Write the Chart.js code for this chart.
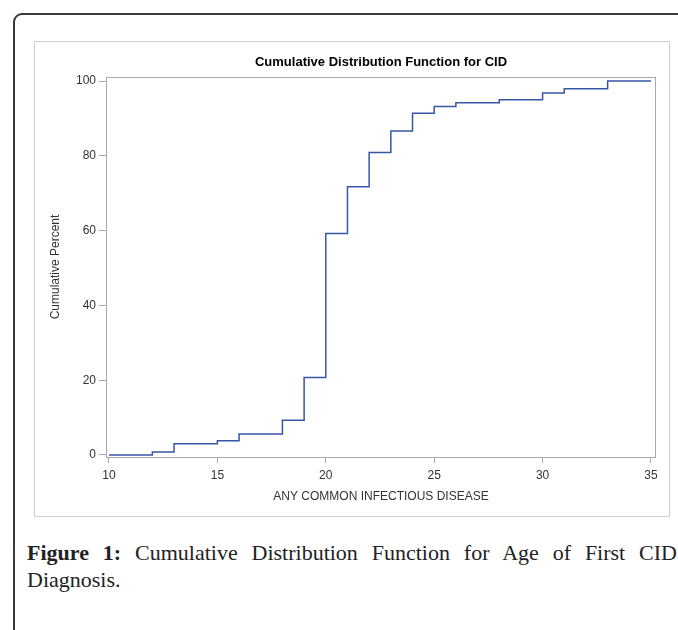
<!DOCTYPE html>
<html>
<head>
<meta charset="utf-8">
<script src="https://cdn.jsdelivr.net/npm/chart.js@4.4.0/dist/chart.umd.min.js"></script>
<style>
  html, body { margin: 0; padding: 0; background: #fff; overflow: hidden; width: 678px; height: 630px; }
  #frame { position: absolute; left: 13px; top: 13px; width: 720px; height: 700px; border: 2px solid #3a3a3a; border-top-left-radius: 9px; box-sizing: border-box; }
  #box { position: absolute; left: 34px; top: 41px; width: 636px; height: 476px; border: 1px solid #cfcfcf; box-sizing: border-box; }
  #box canvas { position: absolute; left: 0; top: 0; }
  .cap { position: absolute; left: 27px; width: 650px; font-family: "Liberation Serif", serif; font-size: 22px; color: #222; line-height: 26px; }
  #cap1 { top: 540px; text-align: justify; text-align-last: justify; }
  #cap2 { top: 567px; }
</style>
</head>
<body>
<div id="frame"></div>
<div id="box"><canvas id="cdf" width="634" height="474"></canvas></div>
<div class="cap" id="cap1"><b>Figure 1:</b> Cumulative Distribution Function for Age of First CID</div>
<div class="cap" id="cap2">Diagnosis.</div>
<script>
// ages where the CDF steps and the cumulative percent from that age on
let ages = [10, 12, 13, 15, 16, 18, 19, 20, 21, 22, 23, 24, 25, 26, 28, 30, 31, 33, 35];
let cumPct = [0, 0.8, 3.0, 3.8, 5.6, 9.3, 20.7, 59.2, 71.7, 80.9, 86.6, 91.4, 93.2, 94.2, 95.0, 96.8, 97.9, 100, 100];
let xTicks = [10, 15, 20, 25, 30, 35];
let yTicks = [0, 20, 40, 60, 80, 100];

let points = ages.map((a, i) => ({ x: a, y: cumPct[i] }));

// gray box around the plot area
const plotFrame = {
    id: 'plotFrame',
    afterDraw(chart) {
        let a = chart.chartArea;
        let ctx = chart.ctx;
        ctx.save();
        ctx.strokeStyle = '#a9a9a9';
        ctx.lineWidth = 1;
        ctx.strokeRect(a.left + 0.5, a.top + 0.5, a.right - a.left - 1, a.bottom - a.top);
        ctx.restore();
    }
};

const tickFont = { family: "'Liberation Sans', Arial, sans-serif", size: 12 };

var chart = new Chart(document.getElementById('cdf'), {
    type: 'scatter',
    data: {
        datasets: [{
            label: 'CDF',
            data: points,
            showLine: true,
            stepped: true,
            borderColor: '#3656a6',
            borderWidth: 1.5,
            pointRadius: 0,
            fill: false
        }]
    },
    options: {
        responsive: false,
        animation: false,
        layout: { padding: { left: 0, top: 0, right: 13, bottom: 0 } },
        scales: {
            x: {
                type: 'linear',
                min: 9.862,
                max: 35.231,
                afterBuildTicks: (s) => { s.ticks = xTicks.map(v => ({ value: v })); },
                afterFit: (s) => { s.height = 59; },
                grid: { drawOnChartArea: false, tickLength: 6, color: '#a9a9a9' },
                border: { display: false },
                ticks: { color: '#333', font: tickFont, padding: 5, maxRotation: 0 },
                title: {
                    display: true,
                    text: 'ANY COMMON INFECTIOUS DISEASE',
                    color: '#333',
                    font: tickFont,
                    padding: { top: 0, bottom: 12 }
                }
            },
            y: {
                type: 'linear',
                min: -0.535,
                max: 101.07,
                afterBuildTicks: (s) => { s.ticks = yTicks.map(v => ({ value: v })); },
                afterFit: (s) => { s.width = 71; },
                grid: { drawOnChartArea: false, tickLength: 7, color: '#a9a9a9' },
                border: { display: false },
                ticks: { color: '#333', font: tickFont, padding: 3 },
                title: {
                    display: true,
                    text: 'Cumulative Percent',
                    color: '#333',
                    font: tickFont,
                    padding: { top: 13, bottom: 0 }
                }
            }
        },
        plugins: {
            legend: { display: false },
            tooltip: { enabled: false },
            title: {
                display: true,
                fullSize: false,
                text: 'Cumulative Distribution Function for CID',
                color: '#000',
                font: { family: "'Liberation Sans', Arial, sans-serif", size: 13, weight: 'bold', lineHeight: 1.2 },
                padding: { top: 13, bottom: 6.4 }
            }
        }
    },
    plugins: [plotFrame]
});
</script>
</body>
</html>
